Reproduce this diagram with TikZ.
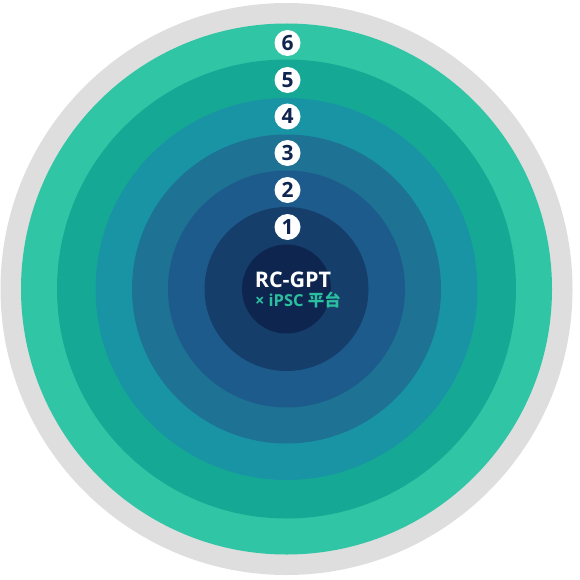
\documentclass[tikz,border=0pt]{standalone}
\usepackage{fontspec}
\setmainfont{Open Sans}
\newfontfamily\cjk{Noto Sans CJK SC}
\definecolor{cgray}{HTML}{DEDEDE}
\definecolor{csix}{HTML}{30C5A5}
\definecolor{cfive}{HTML}{15A995}
\definecolor{cfour}{HTML}{1894A5}
\definecolor{cthree}{HTML}{1E7294}
\definecolor{ctwo}{HTML}{1C5B8C}
\definecolor{cone}{HTML}{153F6A}
\definecolor{ccore}{HTML}{0E2550}
\definecolor{cnavy}{HTML}{0F2550}
\definecolor{cmint}{HTML}{2BBF9F}
\tikzset{
  ring/.style={circle, draw=none, inner sep=0pt},
  badge/.style={circle, fill=white, draw=none, inner sep=0pt, minimum size=26pt,
    text=cnavy, font=\bfseries\fontsize{21}{21}\selectfont},
}
\begin{document}
\begin{tikzpicture}[x=1pt,y=-1pt]
\useasboundingbox (0,0) rectangle (579,580);
\coordinate (c) at (286.5,289);
\node[ring, fill=cgray, minimum size=572pt] (r7) at (c) {};
\node[ring, fill=csix, minimum size=531pt] (r6) at (c) {};
\node[ring, fill=cfive, minimum size=459pt] (r5) at (c) {};
\node[ring, fill=cfour, minimum size=382pt] (r4) at (c) {};
\node[ring, fill=cthree, minimum size=309pt] (r3) at (c) {};
\node[ring, fill=ctwo, minimum size=237pt] (r2) at (c) {};
\node[ring, fill=cone, minimum size=164pt] (r1) at (c) {};
\node[ring, fill=ccore, minimum size=89pt] (r0) at (c) {};
\node[badge] (b6) at (287.5,43) {6};
\node[badge] (b5) at (287.5,80) {5};
\node[badge] (b4) at (287.5,116.5) {4};
\node[badge] (b3) at (287.5,153) {3};
\node[badge] (b2) at (287.5,190) {2};
\node[badge] (b1) at (287.5,227) {1};
\node[text=white, font=\bfseries\fontsize{21.5}{21.5}\selectfont, inner sep=0pt] (t1) at (293,279.5) {RC-GPT};
\node[text=cmint, font=\bfseries\fontsize{16.5}{16.5}\selectfont, inner sep=0pt] (t2) at (298,300) {× iPSC {\cjk 平台}};
\end{tikzpicture}
\end{document}
